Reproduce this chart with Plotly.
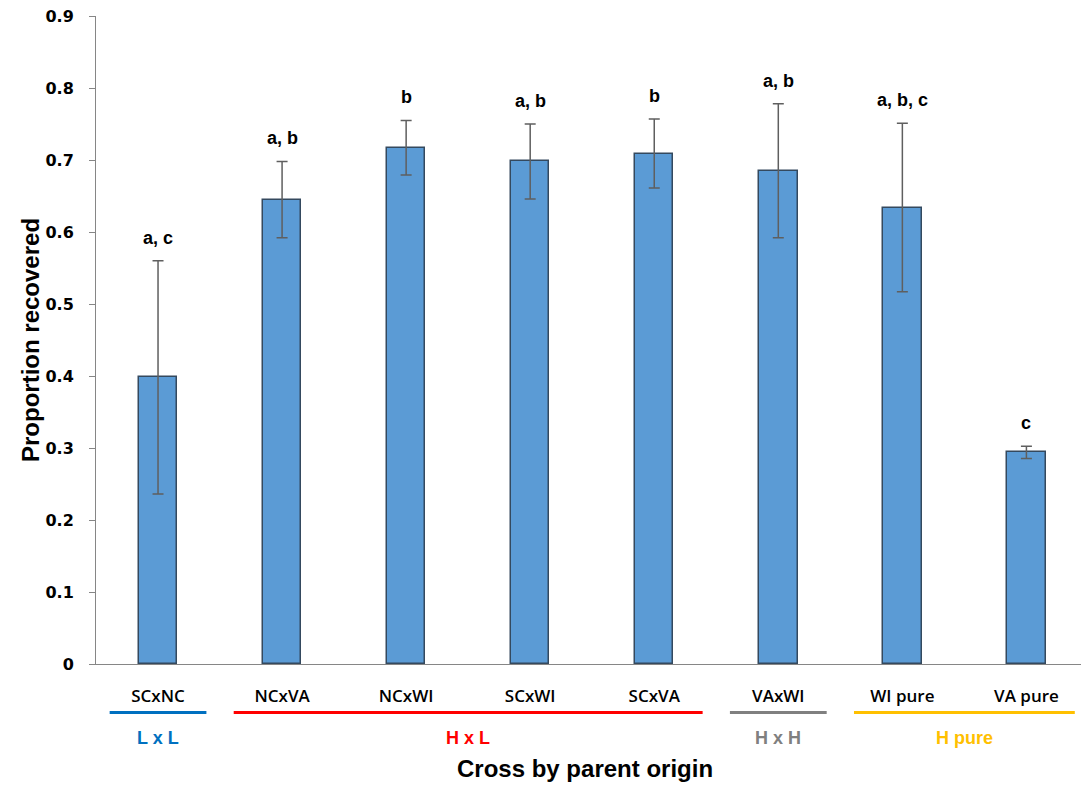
import plotly.graph_objects as go

# ---- data ----
crosses = ["SCxNC", "NCxVA", "NCxWI", "SCxWI", "SCxVA", "VAxWI", "WI pure", "VA pure"]
proportion = [0.398, 0.645, 0.717, 0.698, 0.709, 0.685, 0.634, 0.294]
error = [0.162, 0.053, 0.038, 0.052, 0.048, 0.093, 0.117, 0.0085]
letters = ["a, c", "a, b", "b", "a, b", "b", "a, b", "a, b, c", "c"]

groups = ["L x L", "H x L", "H x H", "H pure"]
group_first = [0, 1, 5, 6]
group_last = [0, 4, 5, 7]
group_colors = ["#0070C0", "#FF0000", "#808080", "#FFC000"]

W, H = 1081, 785
ML, MR, MT, MB = 96, 0, 16, 121
plot_h = H - MT - MB


def py(px_below_axis):
    """paper y for a pixel offset below the x axis line"""
    return -px_below_axis / plot_h


fig = go.Figure()
fig.add_trace(go.Bar(
    x=list(range(len(crosses))),
    y=proportion,
    width=0.31,
    marker=dict(color="#5B9BD5", line=dict(color="#34495E", width=1.5)),
    error_y=dict(type="data", array=error, visible=True,
                 color="#5F5F5F", thickness=1.5, width=5.5),
    hoverinfo="skip",
))

annotations = []
for i, (v, e, t) in enumerate(zip(proportion, error, letters)):
    annotations.append(dict(
        x=i, y=v + e, xref="x", yref="y", text=t, showarrow=False,
        yanchor="middle", yshift=23,
        font=dict(family="Liberation Sans", size=18, color="black", weight="bold"),
    ))

shapes = []
for g, a, b, c in zip(groups, group_first, group_last, group_colors):
    shapes.append(dict(
        type="line", xref="x", yref="paper",
        x0=a - 0.39, x1=b + 0.39, y0=py(48.5), y1=py(48.5),
        line=dict(color=c, width=3),
    ))
    annotations.append(dict(
        x=(a + b) / 2, y=py(74), xref="x", yref="paper", text=g,
        showarrow=False, yanchor="middle",
        font=dict(family="Liberation Sans", size=18, color=c, weight="bold"),
    ))

annotations.append(dict(
    x=(585 - ML) / (W - ML - MR), y=py(104), xref="paper", yref="paper",
    text="Cross by parent origin", showarrow=False, yanchor="middle",
    font=dict(family="Liberation Sans", size=24, color="black", weight="bold"),
))
annotations.append(dict(
    x=0, y=(664 - 340) / plot_h, xref="paper", yref="paper", xshift=-(ML - 30),
    text="Proportion recovered", showarrow=False, textangle=-90,
    xanchor="center", yanchor="middle",
    font=dict(family="Liberation Sans", size=24, color="black", weight="bold"),
))

fig.update_layout(
    width=W, height=H,
    margin=dict(l=ML, r=MR, t=MT, b=MB, pad=0),
    paper_bgcolor="white", plot_bgcolor="white",
    showlegend=False,
    bargap=0,
    shapes=shapes,
    annotations=annotations,
    xaxis=dict(
        range=[-0.5, 7.44],
        tickmode="array", tickvals=list(range(len(crosses))), ticktext=crosses,
        ticks="", showgrid=False, zeroline=False,
        showline=True, linecolor="#868686", linewidth=1,
        tickfont=dict(family="Open Sans", size=17, color="black", weight=600),
        ticklabelstandoff=17,
        fixedrange=True,
    ),
    yaxis=dict(
        range=[0, 0.9], tickmode="array",
        tickvals=[0, 0.1, 0.2, 0.3, 0.4, 0.5, 0.6, 0.7, 0.8, 0.9],
        ticktext=["0", "0.1", "0.2", "0.3", "0.4", "0.5", "0.6", "0.7", "0.8", "0.9"],
        ticks="outside", ticklen=6, tickcolor="#868686", tickwidth=1,
        showgrid=False, zeroline=False,
        showline=True, linecolor="#868686", linewidth=1,
        tickfont=dict(family="DejaVu Sans", size=16, color="black", weight="bold"),
        ticklabelstandoff=12,
        fixedrange=True,
    ),
)

fig.write_html("out.html", config={"displayModeBar": False},
               post_script="document.body.style.margin='0';")
